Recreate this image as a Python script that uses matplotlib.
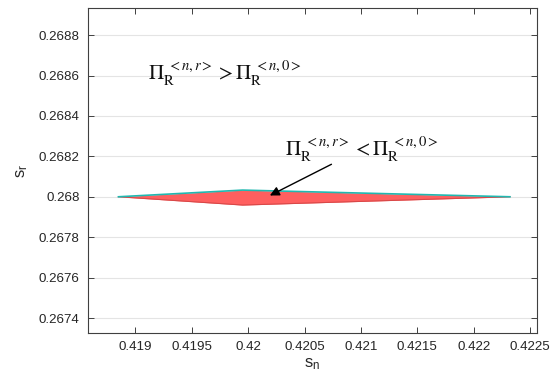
import matplotlib
matplotlib.use("Agg")
import matplotlib.pyplot as plt
import numpy as np

# boundary of the region where Pi_R^<n,r> < Pi_R^<n,0>
sn = [0.41885, 0.41995, 0.42232]
sr_upper = [0.26800, 0.268033, 0.26800]
sr_lower = [0.26800, 0.267959, 0.26800]

xticks = [0.419, 0.4195, 0.42, 0.4205, 0.421, 0.4215, 0.422, 0.4225]
xticklabels = ["0.419", "0.4195", "0.42", "0.4205", "0.421", "0.4215", "0.422", "0.4225"]
yticks = [0.2674, 0.2676, 0.2678, 0.268, 0.2682, 0.2684, 0.2686, 0.2688]
yticklabels = ["0.2674", "0.2676", "0.2678", "0.268", "0.2682", "0.2684", "0.2686", "0.2688"]

plt.rcParams["font.family"] = "Liberation Sans"
plt.rcParams["mathtext.fontset"] = "stix"

fig = plt.figure(figsize=(5.5, 3.91), dpi=100)
ax = fig.add_axes([88 / 550, 1 - 333 / 391, (537 - 88) / 550, (333 - 8) / 391])

ax.fill_between(sn, sr_lower, sr_upper, color="#ff5f5f", linewidth=0, zorder=2)
ax.plot(sn, sr_lower, color="#d84848", lw=0.8, zorder=3)
ax.plot(sn, sr_upper, color="#20b8b0", lw=1.2, zorder=3)

ax.set_xlim(0.41858, 0.42256)
ax.set_ylim(0.267326, 0.268934)
ax.set_xticks(xticks)
ax.set_xticklabels(xticklabels)
ax.set_yticks(yticks)
ax.set_yticklabels(yticklabels)
ax.grid(True, axis="y", color="#e4e4e4", lw=0.8, zorder=0)
ax.tick_params(direction="in", top=True, right=True, length=4, width=0.7,
               colors="#404040", labelsize=9.6, labelcolor="#262626", pad=6)
for s in ax.spines.values():
    s.set_color("#404040")
    s.set_linewidth(0.8)

ax.set_xlabel(r"s$_{\mathregular{n}}$", fontsize=12, color="#262626", labelpad=2)
ax.set_ylabel(r"s$_{\mathregular{r}}$", fontsize=12, color="#262626", labelpad=6)

ax.text(0.41911, 0.26861,
        r"$\Pi_{\mathrm{R}}^{\ \mathit{<n,r>}} > \Pi_{\mathrm{R}}^{\ \mathit{<n,0>}}$",
        fontsize=15, ha="left", va="center", color="#111111")
ax.text(0.42033, 0.268235,
        r"$\Pi_{\mathrm{R}}^{\ \mathit{<n,r>}} < \Pi_{\mathrm{R}}^{\ \mathit{<n,0>}}$",
        fontsize=15, ha="left", va="center", color="#111111")
ax.annotate("", xy=(0.42017, 0.268), xytext=(0.42076, 0.268167),
            arrowprops=dict(arrowstyle="-|>", color="black", lw=1.0,
                            mutation_scale=14), zorder=5)

fig.savefig("out.png", dpi=100)
